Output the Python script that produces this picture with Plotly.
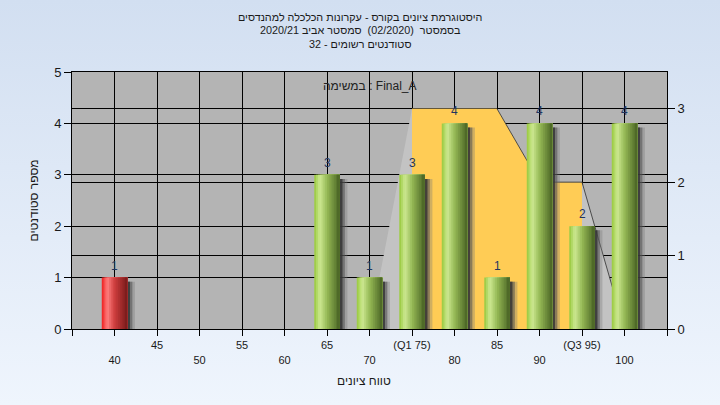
import base64
import plotly.graph_objects as go

# ---------------- data ----------------
grades = [40, 65, 70, 75, 80, 85, 90, 95, 100]
counts = [1, 3, 1, 3, 4, 1, 4, 2, 4]
failing = [True, False, False, False, False, False, False, False, False]

curve_x = [70, 75, 80, 85, 90, 95, 100]
curve_y = [0, 3, 3, 3, 2, 2, 0]
q1, q3 = 75, 95
outline_from = 85

tick_vals = [35, 40, 45, 50, 55, 60, 65, 70, 75, 80, 85, 90, 95, 100, 105]
tick_text = ["", "<br>40", "45", "<br>50", "55", "<br>60", "65", "<br>70",
             "(Q1 75)", "<br>80", "85", "<br>90", "(Q3 95)", "<br>100", ""]

title_lines = ["היסטוגרמת ציונים בקורס - עקרונות הכלכלה למהנדסים",
               "בסמסטר  (02/2020)  סמסטר אביב 2020/21",
               "סטודנטים רשומים - 32"]
task_label = "במשימה : Final_A"
x_title = "טווח ציונים"
y_title = "מספר סטודנטים"

# ---------------- style ----------------
FONT = "Liberation Sans, DejaVu Sans, Arial, sans-serif"
W = 3.0
N = 14
green_stops = [(0.0, (150, 200, 58)), (0.22, (206, 233, 146)), (0.5, (150, 186, 86)), (1.0, (74, 100, 36))]
red_stops = [(0.0, (238, 28, 28)), (0.22, (255, 128, 128)), (0.5, (206, 62, 62)), (1.0, (120, 26, 26))]


def grad(stops, t):
    for (t0, c0), (t1, c1) in zip(stops[:-1], stops[1:]):
        if t0 <= t <= t1:
            f = (t - t0) / (t1 - t0)
            return "rgb(%d,%d,%d)" % tuple(round(a + (b - a) * f) for a, b in zip(c0, c1))
    return "rgb(%d,%d,%d)" % stops[-1][1]


fig = go.Figure()

# distribution area (right axis, drawn underneath bars)
fig.add_trace(go.Scatter(x=curve_x, y=curve_y, yaxis="y2", mode="lines", line=dict(width=0),
                         fill="tozeroy", fillcolor="#C3C3C3", hoverinfo="skip"))
band = [(x, y) for x, y in zip(curve_x, curve_y) if q1 <= x <= q3]
fig.add_trace(go.Scatter(x=[b[0] for b in band], y=[b[1] for b in band], yaxis="y2", mode="lines",
                         line=dict(width=0), fill="tozeroy", fillcolor="#FFCC55", hoverinfo="skip"))
outl = [(x, y) for x, y in zip(curve_x, curve_y) if x >= outline_from]
fig.add_trace(go.Scatter(x=[o[0] for o in outl], y=[o[1] for o in outl], yaxis="y2", mode="lines",
                         line=dict(width=1, color="rgba(55,55,55,0.85)"), hoverinfo="skip"))

# shadows
shadow_h = [c - 0.08 for c in counts]
for ext, col in [(0.9, "rgba(120,120,120,0.35)"), (0.6, "rgba(80,80,80,0.55)"), (0.32, "rgba(50,50,50,0.8)")]:
    fig.add_trace(go.Bar(x=grades, y=shadow_h, width=W / 2 + ext, offset=0.0, yaxis="y",
                         marker=dict(color=col, line=dict(width=0)), hoverinfo="skip"))

# cylinder bars as overlapping slices
for i in range(N):
    t = (i + 0.5) / N
    cols = [grad(red_stops if f else green_stops, t) for f in failing]
    fig.add_trace(go.Bar(x=grades, y=counts, width=W - i * W / N, offset=-W / 2 + i * W / N, yaxis="y",
                         marker=dict(color=cols, line=dict(width=0)), hoverinfo="skip"))

# value labels
for g, c in zip(grades, counts):
    fig.add_annotation(x=g, y=c, xref="x", yref="y", text=str(c), showarrow=False,
                       yanchor="middle", yshift=12, font=dict(size=12, color="#1F3560", family=FONT))

# background gradient
svg = ("<svg xmlns='http://www.w3.org/2000/svg' width='720' height='405' preserveAspectRatio='none'>"
       "<defs><linearGradient id='g' x1='0' y1='0' x2='0' y2='1'>"
       "<stop offset='0' stop-color='#D2DFF1'/><stop offset='1' stop-color='#EFF5FD'/>"
       "</linearGradient></defs><rect width='720' height='405' fill='url(#g)'/></svg>")
uri = "data:image/svg+xml;base64," + base64.b64encode(svg.encode()).decode()

L, R, T, B = 72, 53, 72, 76
PW, PH = 720 - L - R, 405 - T - B

fig.add_layout_image(source=uri, xref="paper", yref="paper", x=-L / PW, y=1 + T / PH,
                     sizex=720 / PW, sizey=405 / PH, xanchor="left", yanchor="top",
                     sizing="stretch", layer="below")
fig.add_shape(type="rect", xref="paper", yref="paper", x0=0, x1=1, y0=0, y1=1,
              fillcolor="#B4B4B4", line=dict(width=0), layer="below")

# titles
for txt, ypx in zip(title_lines, [17, 30.5, 44]):
    fig.add_annotation(text=txt, xref="paper", yref="paper", x=(360 - L) / PW, y=(405 - B - ypx) / PH,
                       xanchor="center", yanchor="middle", showarrow=False,
                       font=dict(size=10.8, color="#1a1a1a", family=FONT))
fig.add_annotation(text=task_label, xref="paper", yref="paper", x=0.5, y=1 - 14 / PH,
                   xanchor="center", yanchor="middle", showarrow=False,
                   font=dict(size=12, color="#222222", family=FONT))
fig.add_annotation(text=y_title, xref="paper", yref="paper", x=(33 - L) / PW, y=0.5, textangle=-90,
                   xanchor="center", yanchor="middle", showarrow=False,
                   font=dict(size=12, color="#1a1a1a", family=FONT))
fig.add_annotation(text=x_title, xref="paper", yref="paper", x=(364 - L) / PW, y=(405 - B - 381) / PH,
                   xanchor="center", yanchor="middle", showarrow=False,
                   font=dict(size=12, color="#1a1a1a", family=FONT))

axis_common = dict(showgrid=True, gridcolor="black", gridwidth=1, zeroline=False, showline=True,
                   linecolor="black", linewidth=1, ticks="outside", tickcolor="black", tickwidth=1)

fig.update_layout(
    width=720, height=405, margin=dict(l=L, r=R, t=T, b=B),
    barmode="overlay", showlegend=False,
    paper_bgcolor="#E2ECF8", plot_bgcolor="#B4B4B4",
    font=dict(family=FONT, size=12, color="#1a1a1a"),
    xaxis=dict(range=[35, 105], tickmode="array", tickvals=tick_vals, ticktext=tick_text,
               ticklen=6, tickfont=dict(size=11), mirror=True, **axis_common),
    yaxis2=dict(range=[0, 3.5], tickvals=[0, 1, 2, 3], side="right", ticklen=7,
                tickfont=dict(size=13), **axis_common),
    yaxis=dict(range=[0, 5], tickvals=[0, 1, 2, 3, 4, 5], side="left", overlaying="y2", ticklen=7,
               tickfont=dict(size=13), **axis_common),
)

fig.write_html("out.html", config={"displayModeBar": False},
               post_script="document.body.style.margin='0';document.body.style.overflow='hidden';")
